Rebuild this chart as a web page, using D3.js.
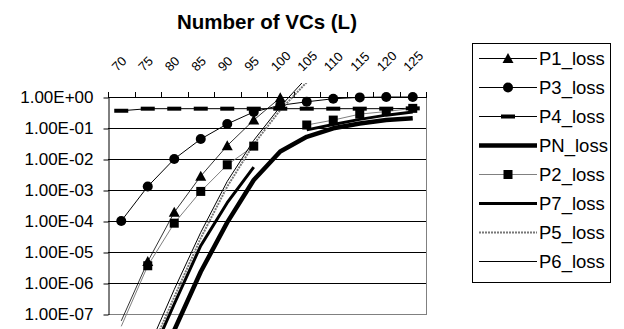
<!DOCTYPE html>
<html>
<head>
<meta charset="utf-8">
<script src="https://cdn.jsdelivr.net/npm/d3@7"></script>
<style>
body { margin: 0; background: #fff; }
</style>
</head>
<body>
<div id="container"></div>
<script>
let w = 624;
let h = 329;

// data
const categories = [70, 75, 80, 85, 90, 95, 100, 105, 110, 115, 120, 125];
const yTicks = [1, 1e-1, 1e-2, 1e-3, 1e-4, 1e-5, 1e-6, 1e-7];
const yTickLabels = ['1.00E+00', '1.00E-01', '1.00E-02', '1.00E-03', '1.00E-04', '1.00E-05', '1.00E-06', '1.00E-07'];

const p1 = [6e-8, 4.9e-6, 1.9e-4, 2.8e-3, 0.027, 0.18, 0.95, null, null, null, null, null];
const p3 = [1e-4, 1.3e-3, 1.0e-2, 0.044, 0.135, 0.33, 0.54, 0.70, 0.88, 0.97, 1.0, 1.0];
const p4 = [0.36, 0.42, 0.42, 0.42, 0.42, 0.42, 0.42, 0.42, 0.42, 0.42, 0.42, 0.43];
const pn = [null, 1e-10, 3e-8, 2.3e-6, 9e-5, 2.1e-3, 0.0175, 0.052, 0.098, 0.14, 0.18, 0.205];
const p2 = [4e-8, 3.6e-6, 8.5e-5, 9e-4, 6.5e-3, 0.026, null, 0.125, 0.18, 0.28, 0.34, 0.43];
const p7 = [null, 2.5e-9, 2.1e-7, 1.6e-5, 3.9e-4, 5.5e-3, null, 0.087, 0.13, 0.19, 0.26, 0.33];
const p5 = [null, 4e-9, 3.5e-7, 2.8e-5, 1.3e-3, 0.03, 0.38, 3, null, null, null, null];
const p6 = [null, 7e-9, 6.2e-7, 4.3e-5, 1.9e-3, 0.04, 0.49, 4.2, null, null, null, null];

const seriesNames = ['P1_loss', 'P3_loss', 'P4_loss', 'PN_loss', 'P2_loss', 'P7_loss', 'P5_loss', 'P6_loss'];
const seriesValues = [p1, p3, p4, pn, p2, p7, p5, p6];

// look of each series
const styles = {
    P1_loss: {stroke: '#000', width: 0.8, marker: 'triangle'},
    P3_loss: {stroke: '#000', width: 1, marker: 'circle'},
    P4_loss: {stroke: '#000', width: 1, marker: 'dash'},
    PN_loss: {stroke: '#000', width: 4.5, marker: null},
    P2_loss: {stroke: '#808080', width: 1, marker: 'square'},
    P7_loss: {stroke: '#000', width: 3, marker: null},
    P5_loss: {stroke: '#777', width: 2, dash: '2,1', marker: null},
    P6_loss: {stroke: '#000', width: 1, marker: null}
};

let font = "'Liberation Sans', Arial, sans-serif";
let plot = {left: 108, right: 426, top: 97, bottom: 314};

let viz = d3.select('#container').append('svg')
    .attr('width', w)
    .attr('height', h)
    .style('font-family', font)
;

let x = d3.scaleBand().domain(categories).range([plot.left, plot.right]);
let xc = d => x(d) + x.bandwidth() / 2;
let y = d3.scaleLog().domain([1e-7, 1]).range([plot.bottom, plot.top]);

// title
viz.append('text')
    .text('Number of VCs (L)')
    .attr('x', 267)
    .attr('y', 29)
    .attr('text-anchor', 'middle')
    .attr('font-weight', 'bold')
    .attr('font-size', '20.5px')

// gridlines
viz.append('g').selectAll('line').data(yTicks).join('line')
    .attr('x1', plot.left).attr('x2', plot.right)
    .attr('y1', d => Math.round(y(d)) + 0.5).attr('y2', d => Math.round(y(d)) + 0.5)
    .attr('stroke', d => d === 1e-7 ? '#808080' : '#000')
    .attr('stroke-width', 1)

// plot border right side
viz.append('line')
    .attr('x1', plot.right + 0.5).attr('x2', plot.right + 0.5)
    .attr('y1', plot.top).attr('y2', plot.bottom + 1)
    .attr('stroke', '#808080')

// y axis
let yAxis = viz.append('g')
    .attr('transform', `translate(${plot.left + 0.5},0.5)`)
    .call(d3.axisLeft(y).tickValues(yTicks)
        .tickFormat((d, i) => yTickLabels[i])
        .tickSize(5).tickSizeOuter(0).tickPadding(10));
yAxis.attr('font-family', font).attr('font-size', 17);
yAxis.selectAll('text').attr('fill', '#000');
yAxis.selectAll('line, path').attr('stroke', '#000');

// x axis on top, ticks at the category boundaries
let bounds = categories.map(c => x(c)).concat([x(categories[categories.length - 1]) + x.step()]);
viz.append('line')
    .attr('x1', plot.left).attr('x2', plot.right + 1)
    .attr('y1', plot.top + 0.5).attr('y2', plot.top + 0.5)
    .attr('stroke', '#000')
viz.append('g').selectAll('line').data(bounds).join('line')
    .attr('x1', d => Math.round(d) + 0.5).attr('x2', d => Math.round(d) + 0.5)
    .attr('y1', plot.top - 5).attr('y2', plot.top)
    .attr('stroke', '#000')
viz.append('g').selectAll('text').data(categories).join('text')
    .text(d => d)
    .attr('font-size', '13px')
    .attr('transform', d => `translate(${xc(d) - 4},${plot.top - 25}) rotate(-45)`)

// series
viz.append('clipPath').attr('id', 'clip')
    .append('rect').attr('x', plot.left).attr('y', 83)
    .attr('width', plot.right - plot.left).attr('height', h - 83);

let line = d3.line()
    .defined(d => d.v !== null)
    .x(d => xc(d.c))
    .y(d => y(d.v));

let series = seriesNames.map((n, i) => ({
    name: n,
    style: styles[n],
    points: categories.map((c, j) => ({c: c, v: seriesValues[i][j]}))
}));

let lines = viz.append('g').attr('clip-path', 'url(#clip)');
lines.selectAll('path').data(series).join('path')
    .attr('d', s => line(s.points))
    .attr('fill', 'none')
    .attr('stroke', s => s.style.stroke)
    .attr('stroke-width', s => s.style.width)
    .attr('stroke-dasharray', s => s.style.dash || null)
    .attr('stroke-linejoin', 'round')

function drawMarker(g, type) {
    if (type === 'triangle') {
        g.append('path').attr('d', 'M0,-5.5L5.5,4.5L-5.5,4.5Z').attr('fill', '#000');
    } else if (type === 'circle') {
        g.append('circle').attr('r', 5).attr('fill', '#000');
    } else if (type === 'square') {
        g.append('rect').attr('x', -4.5).attr('y', -4.5).attr('width', 9).attr('height', 9).attr('fill', '#000');
    } else if (type === 'dash') {
        g.append('rect').attr('x', -7).attr('y', -2).attr('width', 14).attr('height', 4).attr('fill', '#000');
    }
}

series.filter(s => s.style.marker).forEach(s => {
    let pts = s.points.filter(p => p.v !== null && p.v >= 1e-7 && p.v <= 1.05);
    viz.append('g').selectAll('g').data(pts).join('g')
        .attr('transform', p => `translate(${xc(p.c)},${y(p.v)})`)
        .each(function () { drawMarker(d3.select(this), s.style.marker); });
});

// legend
let legend = viz.append('g').attr('transform', 'translate(472,43)');
legend.append('rect')
    .attr('x', 0.5).attr('y', 0.5)
    .attr('width', 138).attr('height', 239)
    .attr('fill', '#fff').attr('stroke', '#000')

let items = legend.selectAll('g.item').data(series).join('g')
    .attr('class', 'item')
    .attr('transform', (s, i) => `translate(0,${15.5 + i * 29})`);
items.append('line')
    .attr('x1', 7).attr('x2', 65).attr('y1', 0).attr('y2', 0)
    .attr('stroke', s => s.style.stroke)
    .attr('stroke-width', s => s.style.width === 0.8 ? 1 : s.style.width)
    .attr('stroke-dasharray', s => s.style.dash || null)
items.each(function (s) { drawMarker(d3.select(this).append('g').attr('transform', 'translate(36,0)'), s.style.marker); });
items.append('text')
    .text(s => s.name)
    .attr('x', 67)
    .attr('y', 0)
    .attr('dy', '0.36em')
    .attr('font-size', '18.5px')
</script>
</body>
</html>
